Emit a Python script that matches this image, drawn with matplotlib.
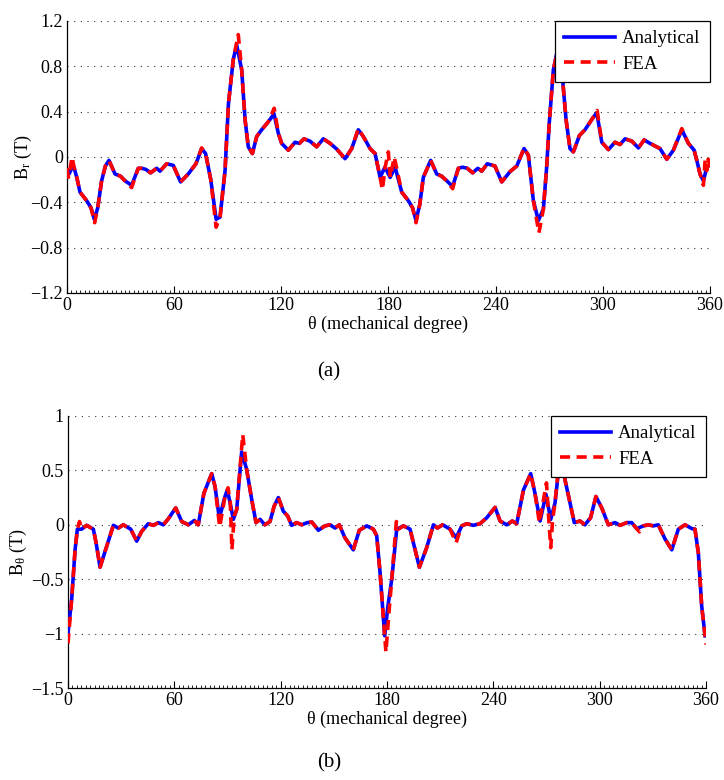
import numpy as np
import matplotlib
matplotlib.use('Agg')
import matplotlib.pyplot as plt
from matplotlib.ticker import MultipleLocator

plt.rcParams['font.family'] = ['Liberation Serif', 'DejaVu Serif']
plt.rcParams['mathtext.fontset'] = 'custom'
plt.rcParams['mathtext.rm'] = 'Liberation Serif'
plt.rcParams['mathtext.it'] = 'Liberation Serif:italic'

# radial flux density, analytical model
br_theta = [0, 1.2, 3.5, 5.5, 7.3, 11, 13.5, 15.3, 17.2, 19.4, 21.5, 23.5, 26.9, 30, 32.5, 36.2,
            39.9, 42, 44.2, 46.8, 50.2, 52.1, 55.8, 59.5, 63.6, 67.9, 72.2, 75.4, 77.6, 80.5,
            83.5, 85.7, 88.5, 90.4, 93.1, 95, 97.8, 99.7, 101.5, 103.8, 106.2, 109, 112.7,
            115.9, 118.3, 120.2, 123.9, 127.7, 130.1, 132.7, 136, 139.8, 143.5, 147.3, 151,
            155.7, 159.4, 163.1, 165.9, 169.7, 172.5, 175.3, 178, 180.9, 183.7, 187.4, 191.1,
            193.5, 195.4, 197.5, 199.5, 203.6, 207, 209.8, 212.6, 215.9, 219.1, 221.5, 224.1, 227.1,
            230, 232.2, 235.3, 239.6, 243.4, 248, 251.8, 255.9, 258.3, 261.1, 263.9, 266.7,
            268.5, 270, 272.3, 275.2, 277, 279.4, 281.6, 283.5, 286.9, 290, 293.8, 296.6, 299.4,
            303.1, 306.8, 309.6, 312.4, 316.2, 319.9, 323.1, 326.4, 332, 335.8, 339.5, 344.2,
            347.9, 351.1, 352.6, 354.4, 356.3, 358.2, 360]
br_ana = [-0.12, -0.15, -0.07, -0.18, -0.31, -0.385, -0.45, -0.55, -0.45, -0.21, -0.08, -0.03,
          -0.15, -0.17, -0.21, -0.25, -0.10, -0.10, -0.11, -0.14, -0.10, -0.125, -0.06, -0.074,
          -0.22, -0.15, -0.06, 0.074, 0.03, -0.2, -0.55, -0.53, -0.12, 0.47, 0.86, 0.99, 0.77,
          0.33, 0.09, 0.03, 0.18, 0.24, 0.31, 0.38, 0.21, 0.12, 0.06, 0.13, 0.12, 0.16, 0.14,
          0.09, 0.16, 0.12, 0.07, -0.015, 0.074, 0.24, 0.18, 0.074, 0.03, -0.18, -0.09, -0.18,
          -0.09, -0.31, -0.385, -0.45, -0.56, -0.42, -0.18, -0.03, -0.15, -0.17, -0.21, -0.26,
          -0.10, -0.09, -0.10, -0.14, -0.10, -0.125, -0.06, -0.08, -0.22, -0.13, -0.08, 0.074,
          0.015, -0.385, -0.56, -0.46, -0.1, 0.3, 0.77, 0.99, 0.77, 0.33, 0.074, 0.045, 0.19,
          0.24, 0.33, 0.39, 0.13, 0.065, 0.13, 0.11, 0.16, 0.14, 0.08, 0.15, 0.12, 0.074, -0.02,
          0.06, 0.24, 0.12, 0.06, -0.03, -0.15, -0.21, -0.09, -0.07]

# radial flux density, FEA (same shape with slot-opening spikes)
br_fea_theta = [0, 0.8, 1.8, 2.9, 3.8, 5.5, 7.3, 11, 13.5, 15.5, 17.2, 19.4, 21.5, 23.5, 26.9,
                30, 32.5, 36.2, 39.9, 42, 44.2, 46.8, 50.2, 52.1, 55.8, 59.5, 63.6, 67.9, 72.2,
                75.4, 77.6, 80.5, 83.5, 85.7, 88.5, 90.4, 93.1, 95.9, 97.8, 99.7, 101.5, 103.8,
                106.2, 109, 112.7, 116, 118.3, 120.2, 123.9, 127.7, 130.1, 132.7, 136, 139.8,
                143.5, 147.3, 151, 155.7, 159.4, 163.1, 165.9, 169.7, 172.5, 175.3, 176.6, 178,
                179.9, 181, 183.2, 184.6, 187.4, 191.1, 193.5, 195.4, 197.5, 199.5, 203.6, 207,
                209.8, 212.6, 215.9, 219.1, 221.5, 224.1, 227.1, 230, 232.2, 235.3, 239.6, 243.4,
                248, 251.8, 255.9, 258.3, 261.1, 264.2, 266.7, 268.5, 270, 272.3, 275.5, 277,
                279.4, 281.6, 283.5, 286.9, 290, 293.8, 296.8, 299.4, 303.1, 306.8, 309.6, 312.4,
                316.2, 319.9, 323.1, 326.4, 332, 335.8, 339.5, 344.2, 347.9, 351.1, 352.6, 354.4,
                356.3, 357.3, 358.2, 359, 360]
br_fea = [-0.1, -0.18, -0.1, 0.0, -0.08, -0.18, -0.31, -0.385, -0.45, -0.58, -0.45, -0.21,
          -0.08, -0.03, -0.15, -0.17, -0.21, -0.27, -0.10, -0.10, -0.11, -0.14, -0.10, -0.125,
          -0.06, -0.074, -0.22, -0.15, -0.06, 0.08, 0.03, -0.2, -0.62, -0.53, -0.12, 0.47, 0.86,
          1.08, 0.77, 0.33, 0.09, 0.03, 0.18, 0.24, 0.31, 0.43, 0.21, 0.12, 0.06, 0.13, 0.12,
          0.16, 0.14, 0.09, 0.16, 0.12, 0.07, -0.015, 0.074, 0.25, 0.18, 0.074, 0.03, -0.18,
          -0.29, -0.1, 0.045, -0.18, 0.0, -0.1, -0.31, -0.385, -0.45, -0.58, -0.42, -0.18, -0.03,
          -0.15, -0.17, -0.21, -0.28, -0.10, -0.09, -0.10, -0.14, -0.10, -0.125, -0.06, -0.08,
          -0.22, -0.13, -0.08, 0.08, 0.015, -0.385, -0.67, -0.46, -0.1, 0.3, 0.77, 1.0, 0.77,
          0.33, 0.074, 0.045, 0.19, 0.24, 0.33, 0.41, 0.13, 0.065, 0.13, 0.11, 0.16, 0.14, 0.08,
          0.15, 0.12, 0.074, -0.02, 0.06, 0.25, 0.12, 0.06, -0.03, -0.15, -0.25, -0.02, -0.12,
          -0.02, -0.09]

# tangential flux density, analytical model
bt_theta = [0, 2.1, 4, 5.3, 7.7, 10.5, 14.3, 15.8, 18.1, 21.8, 25.6, 28.4, 31.2, 35.4, 38.8,
            41.6, 45.3, 48.1, 51, 53.8, 56.6, 60.8, 64.2, 67.9, 71.3, 73.5, 76.7, 81.1, 83,
            85.4, 88.6, 89.9, 91.5, 93.3, 95.2, 98, 100.8, 103.7, 106.1, 108.4, 111.1, 114,
            116.3, 118.7, 121.5, 124, 126.2, 129, 131.9, 135, 137.6, 141.3, 145, 147.9, 150.7,
            153.1, 156.3, 161, 164.4, 168.6, 172.3, 174.2, 176.1, 178.7, 180.5, 182.7, 185.5,
            189.3, 193, 198.3, 202.4, 206.2, 208.4, 211.4, 215.6, 219, 222.2, 225, 228.7, 232.5,
            236.3, 241, 243.8, 247.6, 250.7, 253.2, 257, 261.1, 263.5, 266.4, 269.7, 272.4,
            274.8, 278, 280.5, 283.3, 285.7, 288.9, 291.7, 294.9, 297.9, 301.2, 304.9, 308.7,
            311.5, 315.3, 318.1, 320.9, 324.7, 327.5, 330.3, 333.1, 336.9, 340.7, 344.4, 348.2,
            352, 353.8, 355.7, 357.6, 359.5]
bt_ana = [-1.0, -0.68, -0.23, -0.04, -0.04, -0.005, -0.04, -0.16, -0.39, -0.2, -0.005, -0.03,
          0.0, -0.04, -0.15, -0.06, 0.01, -0.005, 0.02, 0.0, 0.055, 0.155, 0.03, 0.0, 0.04, 0.0,
          0.29, 0.47, 0.35, 0.06, 0.26, 0.32, 0.2, 0.05, 0.14, 0.67, 0.51, 0.23, 0.02, 0.05, 0.0,
          0.03, 0.17, 0.25, 0.125, 0.08, -0.005, 0.02, 0.0, 0.02, 0.025, -0.05, -0.01, 0.0, -0.03,
          0.0, -0.12, -0.23, -0.05, -0.01, -0.04, -0.1, -0.44, -1.02, -0.75, -0.5, -0.04, -0.01,
          -0.04, -0.39, -0.21, 0.0, -0.03, 0.0, -0.04, -0.12, -0.01, 0.01, -0.005, 0.01, 0.065,
          0.16, 0.035, 0.0, 0.035, 0.01, 0.32, 0.47, 0.29, 0.035, 0.28, 0.05, 0.2, 0.67, 0.41,
          0.2, 0.02, 0.035, 0.0, 0.065, 0.26, 0.155, 0.0, 0.02, -0.005, 0.02, 0.02, -0.035, -0.01,
          0.0, -0.01, 0.0, -0.13, -0.23, -0.04, 0.0, -0.035, -0.04, -0.26, -0.75, -1.02]

# tangential flux density, FEA
bt_fea_theta = [0, 2.1, 4, 5.3, 6.5, 7.7, 10.5, 14.3, 15.8, 18.1, 21.8, 25.6, 28.4, 31.2, 35.4,
                38.8, 41.6, 45.3, 48.1, 51, 53.8, 56.6, 60.8, 64.2, 67.9, 71.3, 73.5, 76.7, 81.1,
                83, 85.6, 88.6, 90.3, 91.6, 92.5, 93.8, 95.2, 98.6, 100.8, 103.7, 106.1, 108.4,
                111.1, 114, 116.3, 118.7, 121.5, 124, 126.2, 129, 131.9, 135, 137.6, 141.3, 145,
                147.9, 150.7, 153.1, 156.3, 161, 164.4, 168.6, 172.3, 174.2, 176.1, 179.4, 181.4,
                182.7, 185.3, 186.5, 189.3, 193, 198.3, 202.4, 206.2, 208.4, 211.4, 215.6, 219,
                222.2, 225, 228.7, 232.5, 236.3, 241, 243.8, 247.6, 250.7, 253.2, 257, 261.1,
                263.5, 266, 270, 271.3, 272.4, 273.5, 274.8, 278.5, 280.5, 283.3, 285.7, 288.9,
                291.7, 294.9, 297.9, 301.2, 304.9, 308.7, 311.5, 315.3, 318.1, 320.9, 322.5,
                324.7, 327.5, 330.3, 333.1, 336.9, 340.7, 344.4, 348.2, 352, 353.8, 355.7, 357.6,
                360]
bt_fea = [-1.09, -0.68, -0.23, -0.04, 0.03, -0.04, -0.005, -0.04, -0.16, -0.39, -0.2, -0.005,
          -0.03, 0.0, -0.04, -0.15, -0.06, 0.01, -0.005, 0.02, 0.0, 0.055, 0.155, 0.03, 0.0,
          0.04, 0.0, 0.29, 0.47, 0.35, -0.02, 0.26, 0.34, 0.2, -0.23, 0.08, 0.14, 0.83, 0.51,
          0.23, 0.02, 0.05, 0.0, 0.03, 0.17, 0.25, 0.125, 0.08, -0.005, 0.02, 0.0, 0.02, 0.025,
          -0.05, -0.01, 0.0, -0.03, 0.0, -0.12, -0.23, -0.05, -0.01, -0.04, -0.1, -0.44, -1.17,
          -0.75, -0.5, 0.03, -0.04, -0.01, -0.04, -0.39, -0.21, 0.0, -0.03, 0.0, -0.04, -0.165,
          -0.01, 0.01, -0.005, 0.01, 0.065, 0.16, 0.035, 0.0, 0.035, 0.01, 0.32, 0.47, 0.29,
          0.02, 0.385, 0.05, -0.21, 0.05, 0.2, 0.8, 0.41, 0.2, 0.02, 0.035, 0.0, 0.065, 0.26,
          0.155, 0.0, 0.02, -0.005, 0.02, 0.02, -0.035, -0.065, -0.01, 0.0, -0.01, 0.0, -0.13,
          -0.23, -0.04, 0.0, -0.035, -0.04, -0.26, -0.75, -1.1]

xticks = [0, 60, 120, 180, 240, 300, 360]
br_ticks = [-1.2, -0.8, -0.4, 0, 0.4, 0.8, 1.2]
bt_ticks = [-1.5, -1, -0.5, 0, 0.5, 1]

fig = plt.figure(figsize=(7.24, 7.80), dpi=100)
ax1 = fig.add_axes([0.0925, 0.6244, 0.8882, 0.3487])
ax2 = fig.add_axes([0.0939, 0.1179, 0.8812, 0.3488])


def style_axes(ax, yticks, ylim, ylabel, ytick_labels, label_x):
    ax.set_xlim(0, 360)
    ax.set_ylim(*ylim)
    ax.set_xticks(xticks)
    ax.set_yticks(yticks)
    ax.set_yticklabels(ytick_labels)
    ax.xaxis.set_minor_locator(MultipleLocator(2.5))
    ax.tick_params(which='major', direction='in', length=5, width=0.8, labelsize=13, pad=3)
    ax.tick_params(which='minor', direction='in', length=2, width=0.6)
    ax.tick_params(axis='y', which='major', length=0)
    for side in ('top', 'right'):
        ax.spines[side].set_visible(False)
    for side in ('left', 'bottom'):
        ax.spines[side].set_linewidth(0.9)
    ax.grid(axis='y', linestyle=(0, (1, 5)), color='#333333', linewidth=0.8)
    ax.set_xlabel('θ (mechanical degree)', fontsize=13, labelpad=1)
    ax.set_ylabel(ylabel, fontsize=13)
    ax.yaxis.set_label_coords(label_x, 0.5)


dash = (0, (2.8, 1.8))

ax1.plot(br_theta, br_ana, color='#0000ff', lw=2.6, label='Analytical', zorder=3)
ax1.plot(br_fea_theta, br_fea, color='#ff0000', lw=2.6, ls=dash, label='FEA', zorder=4)
style_axes(ax1, br_ticks, (-1.2, 1.2), r'$\mathregular{B_r}$ (T)',
           ['\u22121.2', '\u22120.8', '\u22120.4', '0', '0.4', '0.8', '1.2'], -0.051)

ax2.plot(bt_theta, bt_ana, color='#0000ff', lw=2.6, label='Analytical', zorder=3)
ax2.plot(bt_fea_theta, bt_fea, color='#ff0000', lw=2.6, ls=dash, label='FEA', zorder=4)
style_axes(ax2, bt_ticks, (-1.5, 1), r'$\mathregular{B_{θ}}$ (T)',
           ['\u22121.5', '\u22121', '\u22120.5', '0', '0.5', '1'], -0.061)

for ax in (ax1, ax2):
    leg = ax.legend(loc='upper right', fontsize=13.5, frameon=True, fancybox=False,
                    framealpha=1, borderaxespad=0, handlelength=2.7, handletextpad=0.4,
                    borderpad=0.5, labelspacing=0.45)
    leg.set_zorder(10)
    leg.get_frame().set_edgecolor('black')
    leg.get_frame().set_linewidth(0.9)

fig.text(0.4545, 0.523, '(a)', fontsize=15, ha='center', va='center')
fig.text(0.4545, 0.022, '(b)', fontsize=15, ha='center', va='center')

fig.savefig('out.png', dpi=100)
